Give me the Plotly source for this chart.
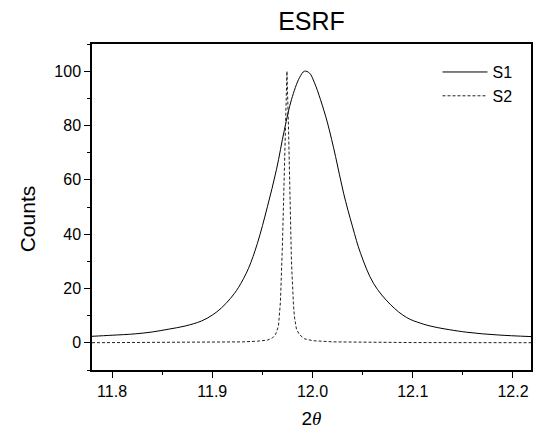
import plotly.graph_objects as go

# S1 (solid)
s1_x = [11.780, 11.800, 11.823, 11.840, 11.856, 11.873, 11.889, 11.900, 11.909, 11.918,
        11.926, 11.936, 11.945, 11.955, 11.964, 11.972, 11.979, 11.987, 11.992, 11.997,
        12.002, 12.008, 12.015, 12.023, 12.031, 12.040, 12.048, 12.061, 12.078, 12.094,
        12.108, 12.121, 12.154, 12.185, 12.218]
s1_y = [2.4, 2.8, 3.3, 4.0, 5.0, 6.2, 8.0, 10.2, 12.8, 16.3,
        20.3, 27.3, 36.6, 50.1, 63.7, 78.5, 89.5, 97.6, 100.0, 99.3,
        95.7, 89.5, 80.9, 68.6, 55.1, 42.7, 32.9, 21.8, 14.0, 9.3,
        7.2, 5.9, 3.9, 2.9, 2.3]

# S2 (dashed)
s2_x = [11.780, 11.850, 11.900, 11.930, 11.945, 11.955, 11.960, 11.963, 11.966, 11.968,
        11.970, 11.9715, 11.973, 11.9745, 11.976, 11.9775, 11.979, 11.981, 11.982, 11.984,
        11.987, 11.992, 12.000, 12.020, 12.050, 12.100, 12.218]
s2_y = [0.05, 0.1, 0.2, 0.35, 0.6, 1.0, 1.8, 3.0, 6.0, 15.0,
        36.0, 61.0, 86.0, 100.0, 80.0, 55.0, 30.0, 14.0, 9.5, 5.0,
        3.0, 1.5, 0.8, 0.35, 0.2, 0.1, 0.05]

x_ticks = [11.8, 11.9, 12.0, 12.1, 12.2]
x_tick_text = ["11.8", "11.9", "12.0", "12.1", "12.2"]
y_ticks = [0, 20, 40, 60, 80, 100]

FONT = "Liberation Sans, Arial, sans-serif"

fig = go.Figure()
fig.add_trace(go.Scatter(x=s1_x, y=s1_y, mode="lines", name="S1",
                         line=dict(color="black", width=1, shape="spline", smoothing=1.0),
                         legendgroup="a"))
fig.add_trace(go.Scatter(x=s2_x, y=s2_y, mode="lines", name="S2",
                         line=dict(color="#222222", width=1, dash="3px,2px"),
                         legendgroup="b"))

axis_common = dict(showgrid=False, zeroline=False, showline=True, linecolor="black",
                   linewidth=1.5, mirror=True, ticks="outside", ticklen=6, tickwidth=1.2,
                   tickcolor="black", tickfont=dict(family=FONT, size=16, color="black"))

fig.update_xaxes(range=[11.78, 12.218], tickvals=x_ticks, ticktext=x_tick_text,
                 minor=dict(dtick=0.05, tick0=11.8, ticks="outside", ticklen=3,
                            tickwidth=1.2, tickcolor="black"),
                 title=dict(text="2<span style=\"font-family:'Liberation Serif'\"><i>θ</i></span>",
                            font=dict(family=FONT, size=19, color="black"), standoff=13),
                 **axis_common)
fig.update_yaxes(range=[-10, 110], tickvals=y_ticks,
                 minor=dict(dtick=10, tick0=0, ticks="outside", ticklen=3,
                            tickwidth=1.2, tickcolor="black"),
                 **axis_common)

fig.add_annotation(text="Counts", textangle=-90, xref="paper", yref="paper",
                   x=-0.146, y=0.465, showarrow=False, xanchor="center", yanchor="middle",
                   font=dict(family=FONT, size=21, color="black"))

fig.update_layout(
    width=535, height=430,
    margin=dict(l=92, r=2, t=44, b=60),
    paper_bgcolor="white", plot_bgcolor="white",
    title=dict(text="ESRF", x=0.5, xref="paper", y=0.951, yref="container",
               yanchor="middle", font=dict(family=FONT, size=25, color="black")),
    showlegend=True,
    legend=dict(x=0.787, y=0.966, xanchor="left", yanchor="top", bgcolor="rgba(0,0,0,0)",
                font=dict(family=FONT, size=16, color="black"), traceorder="grouped",
                tracegroupgap=0, itemwidth=45),
)

fig.write_html("out.html", config={"displayModeBar": False},
               post_script="document.body.style.margin='0px';")
